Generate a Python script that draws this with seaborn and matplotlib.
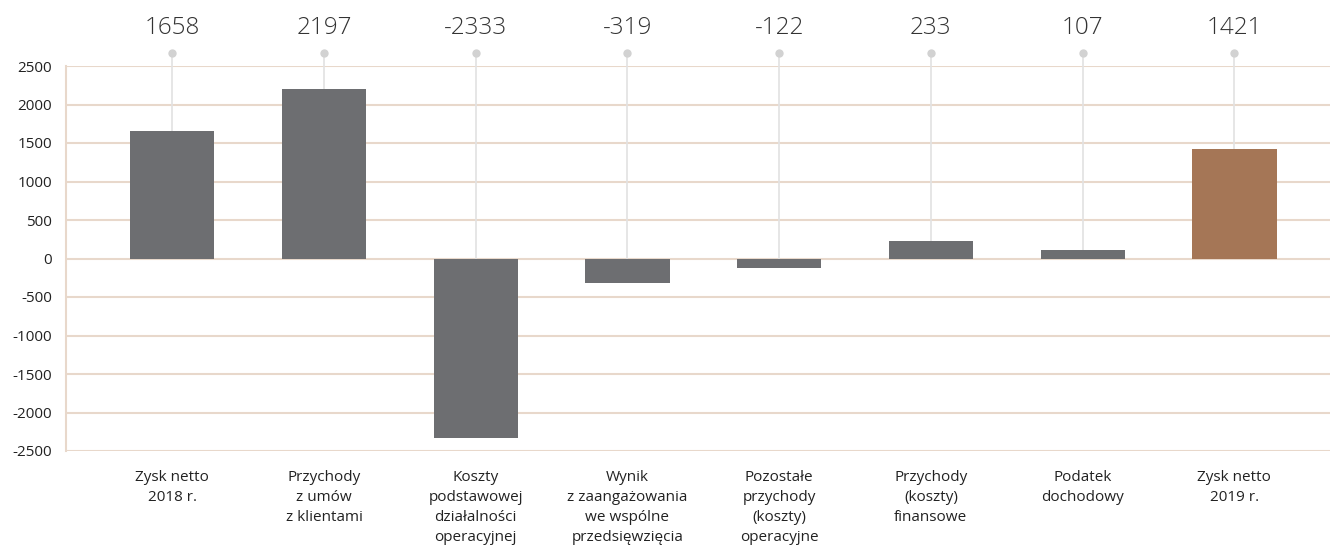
import matplotlib
matplotlib.use("Agg")
import matplotlib.pyplot as plt
import seaborn as sns

# data
categories = [
    "Zysk netto\n2018 r.",
    "Przychody\nz umów\nz klientami",
    "Koszty\npodstawowej\ndziałalności\noperacyjnej",
    "Wynik\nz zaangażowania\nwe wspólne\nprzedsięwzięcia",
    "Pozostałe\nprzychody\n(koszty)\noperacyjne",
    "Przychody\n(koszty)\nfinansowe",
    "Podatek\ndochodowy",
    "Zysk netto\n2019 r.",
]
values = [1658, 2197, -2333, -319, -122, 233, 107, 1421]
bar_colors = ["#6d6e71"] * 7 + ["#a57656"]
yticks = [2500, 2000, 1500, 1000, 500, 0, -500, -1000, -1500, -2000, -2500]

sns.set_style("white")
plt.rcParams["font.family"] = ["Open Sans", "DejaVu Sans"]

fig = plt.figure(figsize=(13.3, 5.52), dpi=100)
ax = fig.add_axes([66 / 1330, 101 / 552, 1 - 66 / 1330, 385 / 552])

# connector lines + dots above the plot
dot_y = 2669
for i, v in enumerate(values):
    ax.vlines(i, max(v, 0), dot_y, color="#e2e2e2", lw=1.2, zorder=1, clip_on=False)
ax.scatter(range(len(values)), [dot_y] * len(values), s=36, color="#d2d2d2",
           zorder=3, clip_on=False, linewidths=0)
for i, v in enumerate(values):
    ax.text(i, 2994, str(v), ha="center", va="center", fontsize=17.5,
            color="#333333", fontweight="light", clip_on=False)

sns.barplot(x=categories, y=values, hue=categories, palette=bar_colors,
            legend=False, width=0.555, saturation=1, linewidth=0,
            edgecolor="none", ax=ax, zorder=2)

ax.set_ylim(-2500, 2500)
ax.set_xlim(-0.7, 7.63)
ax.set_yticks(yticks)
ax.set_yticklabels([str(t) for t in yticks])
ax.yaxis.grid(True, color="#e8d8cb", lw=1.5, zorder=0)
ax.set_axisbelow(True)
ax.tick_params(axis="y", length=0, pad=10, labelsize=11, labelcolor="#222222")
ax.tick_params(axis="x", length=0, pad=14, labelsize=11, labelcolor="#222222")
for lbl in ax.get_xticklabels():
    lbl.set_linespacing(1.45)
ax.set_xlabel("")
ax.set_ylabel("")

for s in ["top", "right", "bottom"]:
    ax.spines[s].set_visible(False)
ax.spines["left"].set_color("#e8d8cb")
ax.spines["left"].set_linewidth(1.5)

fig.savefig("out.png", dpi=100)
